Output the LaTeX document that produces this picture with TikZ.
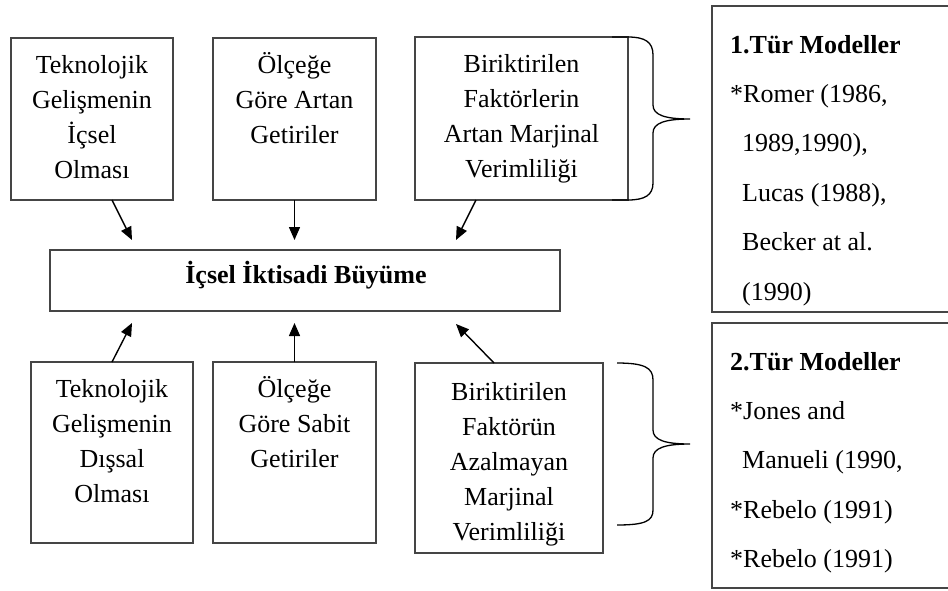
\documentclass[tikz,border=0pt]{standalone}
\usepackage{fontspec}
\setmainfont{Liberation Serif}
\usetikzlibrary{arrows.meta}
\definecolor{bord}{HTML}{454545}
\begin{document}
\begin{tikzpicture}[x=1pt,y=-1pt,
  box/.style={draw=bord, line width=1.6pt, rectangle, inner sep=0pt, outer sep=0pt},
  txt/.style={anchor=north, inner sep=0pt, align=center, font=\fontsize{26}{35}\selectfont},
  reftxt/.style={anchor=north west, inner sep=0pt, align=left, font=\fontsize{26}{49.4}\selectfont},
  arr/.style={line width=1.4pt, -{Triangle[length=13pt,width=11pt]}},
  brace/.style={line width=1.3pt, black}]
\clip (0,0) rectangle (948,590);
\fill[white] (0,0) rectangle (948,590);
% boxes
\node[box, minimum width=162pt, minimum height=162pt] (b1) at (92,119) {};
\node[box, minimum width=163pt, minimum height=162pt] (b2) at (294.5,119) {};
\node[box, minimum width=213pt, minimum height=163pt] (b3) at (521.5,118.5) {};
\node[box, minimum width=162pt, minimum height=181pt] (b4) at (112,452.5) {};
\node[box, minimum width=163pt, minimum height=181pt] (b5) at (294.5,452.5) {};
\node[box, minimum width=188pt, minimum height=190pt] (b6) at (509,458) {};
\node[box, minimum width=510pt, minimum height=61pt] (c) at (305,280.5) {};
\node[box, minimum width=248pt, minimum height=306pt] (r1) at (836,159) {};
\node[box, minimum width=248pt, minimum height=265pt] (r2) at (836,455.5) {};
% texts
\node[txt] (t1) at ([yshift=-10.5pt]b1.north) {\strut Teknolojik\\Gelişmenin\\İçsel\\Olması};
\node[txt] (t2) at ([yshift=-10.5pt]b2.north) {\strut Ölçeğe\\Göre Artan\\Getiriler};
\node[txt] (t3) at ([yshift=-10.5pt]b3.north) {\strut Biriktirilen\\Faktörlerin\\Artan Marjinal\\Verimliliği};
\node[txt] (t4) at ([yshift=-10.5pt]b4.north) {\strut Teknolojik\\Gelişmenin\\Dışsal\\Olması};
\node[txt] (t5) at ([yshift=-10.5pt]b5.north) {\strut Ölçeğe\\Göre Sabit\\Getiriler};
\node[txt] (t6) at ([yshift=-12.5pt]b6.north) {\strut Biriktirilen\\Faktörün\\Azalmayan\\Marjinal\\Verimliliği};
\node[anchor=base, inner sep=0pt, font=\fontsize{26}{35}\selectfont\bfseries] (tc) at (306,283) {İçsel İktisadi Büyüme};
\node[reftxt] (tr1) at (730,18.4) {\strut\textbf{1.Tür Modeller}\\{*}Romer (1986,\\\hspace*{12pt}1989,1990),\\\hspace*{12pt}Lucas (1988),\\\hspace*{12pt}Becker at al.\\\hspace*{12pt}(1990)};
\node[reftxt] (tr2) at (730,335.4) {\strut\textbf{2.Tür Modeller}\\{*}Jones and\\\hspace*{12pt}Manueli (1990,\\{*}Rebelo (1991)\\{*}Rebelo (1991)};
% arrow tips
\coordinate (a1) at (132,240);
\coordinate (a2) at (294.5,240);
\coordinate (a3) at (456,240);
\coordinate (a4) at (132,323);
\coordinate (a5) at (294.5,323);
\coordinate (a6) at (456,324);
\draw[arr] ([xshift=20pt]b1.south) -- (a1);
\draw[arr] (b2.south) -- (a2);
\draw[arr] ([xshift=-45.5pt]b3.south) -- (a3);
\draw[arr] (b4.north) -- (a4);
\draw[arr] (b5.north) -- (a5);
\draw[arr] ([xshift=-15pt]b6.north) -- (a6);
% braces
\draw[brace] (612,37) -- (628,37) .. controls (645,37) and (653,42) .. (653,55) -- (653,105)
  .. controls (653,115) and (665,119) .. (690,119)
  .. controls (665,119) and (653,123) .. (653,133) -- (653,183)
  .. controls (653,195) and (645,200) .. (628,200) -- (612,200);
\draw[brace] (617,363) .. controls (645,363) and (653,368) .. (653,380) -- (653,430)
  .. controls (653,440) and (665,444) .. (690,444)
  .. controls (665,444) and (653,448) .. (653,458) -- (653,510)
  .. controls (653,521) and (645,525) .. (617,525);
\end{tikzpicture}
\end{document}
